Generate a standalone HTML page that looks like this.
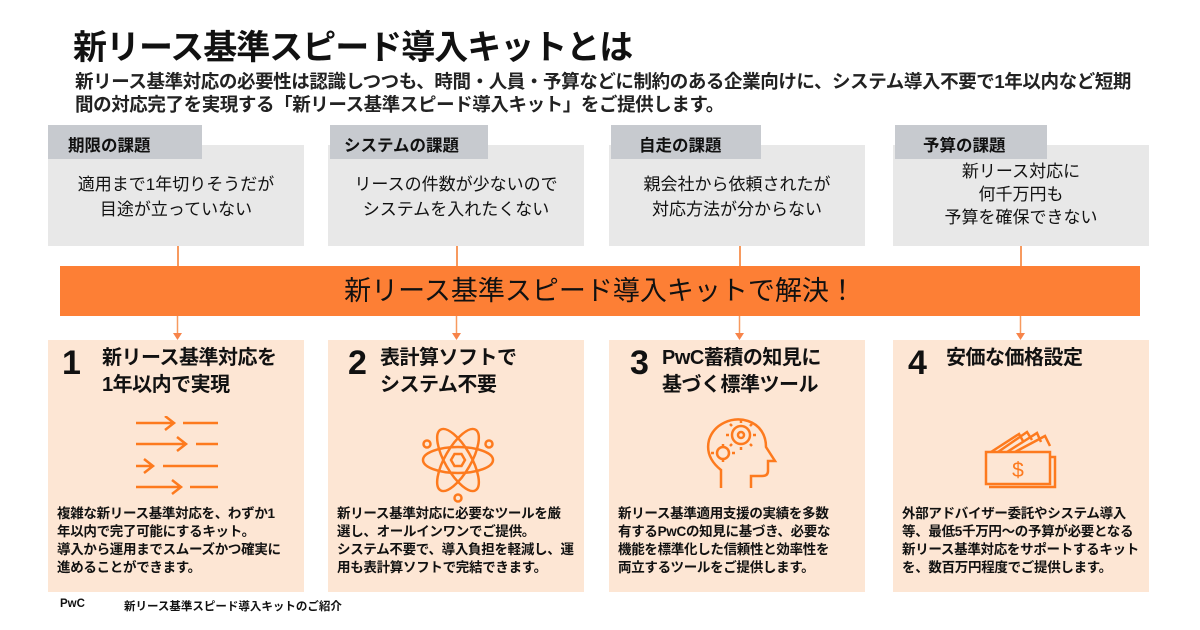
<!DOCTYPE html>
<html><head><meta charset="utf-8"><style>
*{margin:0;padding:0;box-sizing:border-box}
body{width:1200px;height:630px;background:#fff;position:relative;overflow:hidden;font-family:"Liberation Sans","Noto Sans CJK JP",sans-serif;color:#111}
.a{position:absolute}
h1{position:absolute;left:73px;top:20px;font-size:34px;font-weight:bold;letter-spacing:-1px}
.intro{left:75px;top:70px;font-size:18.5px;line-height:23px;font-weight:bold;color:#222;width:1120px;letter-spacing:-0.4px}
.tb{background:#e8e8e8;top:145px;height:101px;width:256px}
.tab{background:#c7cacf;top:125px;height:34px;font-size:16.5px;font-weight:bold;padding:7px 0 0 20px;width:154px}
.tt{font-size:17px;line-height:25px;text-align:center;width:256px;top:172px}
.band{left:60px;top:266px;width:1080px;height:50px;background:#fd7f35;font-size:27px;text-align:center;line-height:50px;color:#111}
.bb{background:#fde6d4;top:340px;height:252px;width:256px}
.num{font-size:34px;font-weight:bold;top:344px}
.hd{font-size:20px;font-weight:bold;line-height:27px;top:345px;letter-spacing:-0.5px}
.bd{font-size:13.5px;font-weight:bold;line-height:18px;top:505px;width:250px;letter-spacing:-0.3px}
.ln{width:1.5px;background:#f79a5f}
</style></head><body>
<h1>新リース基準スピード導入キットとは</h1>
<div class="a intro">新リース基準対応の必要性は認識しつつも、時間・人員・予算などに制約のある企業向けに、システム導入不要で1年以内など短期<br>間の対応完了を実現する「新リース基準スピード導入キット」をご提供します。</div>

<div class="a tb" style="left:48px"></div><div class="a tab" style="left:48px">期限の課題</div>
<div class="a tt" style="left:48px">適用まで1年切りそうだが<br>目途が立っていない</div>
<div class="a tb" style="left:328px"></div><div class="a tab" style="left:330px;width:158px;padding-left:14px">システムの課題</div>
<div class="a tt" style="left:328px">リースの件数が少ないので<br>システムを入れたくない</div>
<div class="a tb" style="left:609px"></div><div class="a tab" style="left:611px;width:150px;padding-left:28px">自走の課題</div>
<div class="a tt" style="left:609px">親会社から依頼されたが<br>対応方法が分からない</div>
<div class="a tb" style="left:893px"></div><div class="a tab" style="left:895px;width:152px;padding-left:28px">予算の課題</div>
<div class="a tt" style="left:893px;top:160px;line-height:23px">新リース対応に<br>何千万円も<br>予算を確保できない</div>

<div class="a ln" style="left:177px;top:246px;height:20px"></div>
<div class="a ln" style="left:456px;top:246px;height:20px"></div>
<div class="a ln" style="left:739px;top:246px;height:20px"></div>
<div class="a ln" style="left:1020px;top:246px;height:20px"></div>
<div class="a band">新リース基準スピード導入キットで解決！</div>
<svg class="a" style="left:0;top:316px" width="1200" height="26">
<g stroke="#f79a5f" stroke-width="1.5"><line x1="177.5" y1="0" x2="177.5" y2="18"/><line x1="456.5" y1="0" x2="456.5" y2="18"/><line x1="739.5" y1="0" x2="739.5" y2="18"/><line x1="1020.5" y1="0" x2="1020.5" y2="18"/></g>
<g fill="#f7844a"><path d="M173 17h9l-4.5 7z"/><path d="M452 17h9l-4.5 7z"/><path d="M735 17h9l-4.5 7z"/><path d="M1016 17h9l-4.5 7z"/></g>
</svg>

<div class="a bb" style="left:48px"></div>
<div class="a num" style="left:62px">1</div>
<div class="a hd" style="left:102px">新リース基準対応を<br>1年以内で実現</div>
<svg class="a" style="left:133px;top:416px" width="90" height="80" fill="none" stroke="#fd7a1e" stroke-width="2.5">
<path d="M3 7h38M32 0l9 7-9 7M50 7h35"/><path d="M3 28h50M44 21l9 7-9 7M63 28h22"/><path d="M3 50h17M11 43l9 7-9 7M30 50h55"/><path d="M3 71h45M39 64l9 7-9 7M57 71h28"/>
</svg>
<div class="a bd" style="left:57px">複雑な新リース基準対応を、わずか1<br>年以内で完了可能にするキット。<br>導入から運用までスムーズかつ確実に<br>進めることができます。</div>

<div class="a bb" style="left:328px"></div>
<div class="a num" style="left:348px">2</div>
<div class="a hd" style="left:380px">表計算ソフトで<br>システム不要</div>
<svg class="a" style="left:416px;top:420px" width="84" height="84" fill="none" stroke="#fd7a1e" stroke-width="2.5">
<ellipse cx="42" cy="40" rx="35" ry="13" transform="rotate(60 42 40)"/><ellipse cx="42" cy="40" rx="35" ry="13" transform="rotate(-60 42 40)"/><ellipse cx="42" cy="40" rx="35" ry="13"/>
<path d="M35 40l3.5-6h7l3.5 6-3.5 6h-7z"/><circle cx="11" cy="24" r="3.5"/><circle cx="73" cy="24" r="3.5"/><circle cx="42" cy="78" r="3.5"/>
</svg>
<div class="a bd" style="left:337px">新リース基準対応に必要なツールを厳<br>選し、オールインワンでご提供。<br>システム不要で、導入負担を軽減し、運<br>用も表計算ソフトで完結できます。</div>

<div class="a bb" style="left:609px"></div>
<div class="a num" style="left:630px">3</div>
<div class="a hd" style="left:662px">PwC蓄積の知見に<br>基づく標準ツール</div>
<svg class="a" style="left:706px;top:418px" width="75" height="75" fill="none" stroke="#fd7a1e" stroke-width="2.5">
<path d="M15 70V52C5 44 0 34 3 22 8 6 26 -2 42 3c12 4 18 14 18 26l9 14h-7v10c0 4-3 5-6 5H45v12"/>
<circle cx="35" cy="17" r="9"/><circle cx="35" cy="17" r="3"/><circle cx="17" cy="35" r="6"/>
<path d="M35 5v-3M35 29v3M23 17h-3M47 17h3M26 8l-2-2M44 26l2 2M44 8l2-2M26 26l-2 2M17 26v3M17 44v-3M8 35h-3M26 35h3"/>
</svg>
<div class="a bd" style="left:618px">新リース基準適用支援の実績を多数<br>有するPwCの知見に基づき、必要な<br>機能を標準化した信頼性と効率性を<br>両立するツールをご提供します。</div>

<div class="a bb" style="left:893px"></div>
<div class="a num" style="left:908px">4</div>
<div class="a hd" style="left:946px">安価な価格設定</div>
<svg class="a" style="left:983px;top:430px" width="78" height="60" fill="none" stroke="#fd7a1e" stroke-width="2.5">
<path d="M8 22L36 4l4 7M15 22L44 2l5 8M24 22L54 3l4 9M32 22L62 6l5 10"/>
<rect x="3" y="22" width="64" height="32"/><path d="M67 27h5v30H6"/>
<text x="35" y="47" font-family="Liberation Sans" font-size="21" fill="#fd7a1e" stroke="none" text-anchor="middle">$</text>
</svg>
<div class="a bd" style="left:902px">外部アドバイザー委託やシステム導入<br>等、最低5千万円～の予算が必要となる<br>新リース基準対応をサポートするキット<br>を、数百万円程度でご提供します。</div>

<div class="a" style="left:60px;top:598px;font-size:11.5px;font-weight:bold">PwC</div>
<div class="a" style="left:124px;top:598px;font-size:11.5px;font-weight:bold">新リース基準スピード導入キットのご紹介</div>
</body></html>
